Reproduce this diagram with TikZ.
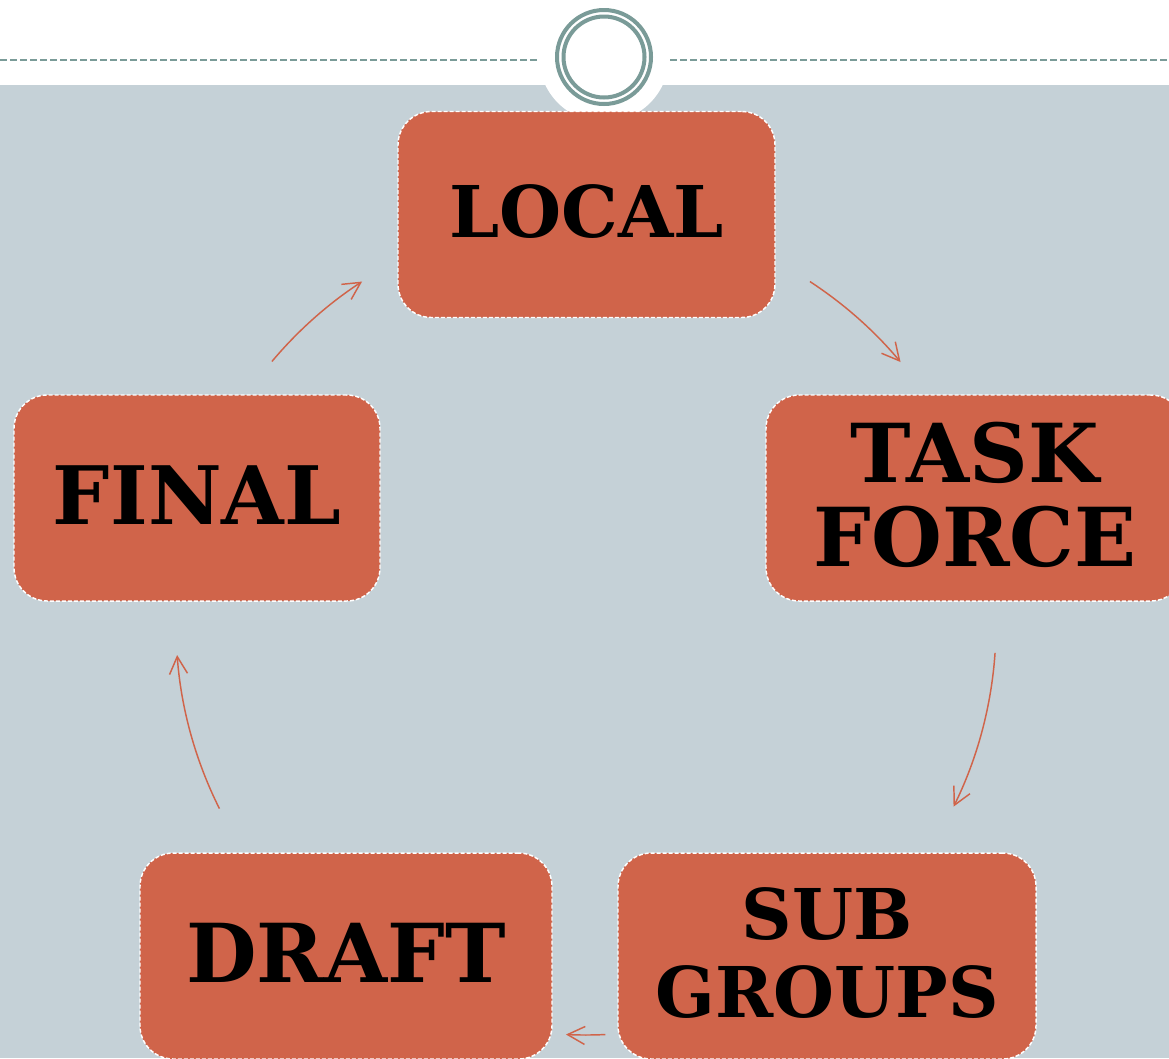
\documentclass[tikz,border=0pt]{standalone}
\usepackage{fontspec}
\setmainfont{DejaVu Serif}
\usetikzlibrary{arrows.meta,calc}
\definecolor{bgrey}{RGB}{197,209,215}
\definecolor{boxc}{RGB}{208,100,74}
\definecolor{ringc}{RGB}{122,155,152}
\begin{document}
\begin{tikzpicture}[x=0.75pt,y=-0.75pt,
  cbox/.style={draw=white, fill=boxc, line width=1.1pt, dash pattern=on 3pt off 1.5pt,
    rounded corners=25pt, inner sep=0pt, align=center, text=black, text depth=5pt,
    minimum height=206*0.75pt},
  arr/.style={draw=boxc, line width=1.1pt, -{Straight Barb[length=13pt,width=13.5pt]}}]
\useasboundingbox (0,0) rectangle (1169,1058);
\clip (0,0) rectangle (1169,1058);
\fill[white] (0,0) rectangle (1169,1058);
\fill[bgrey] (0,85) rectangle (1169,1058);
\draw[ringc, line width=1.3pt, dash pattern=on 5.25pt off 2.25pt] (0,60) -- (1169,60);
\fill[white] (604,57) circle[radius=65];
\draw[ringc, line width=3pt] (604,57) circle[radius=47];
\draw[ringc, line width=3pt] (604,57) circle[radius=40.5];

\node[cbox, minimum width=377*0.75pt, font=\fontsize{53.5pt}{60pt}\selectfont\bfseries] (local) at (586.5,214.5) {LOCAL};
\node[cbox, minimum width=418*0.75pt, font=\fontsize{61pt}{63pt}\selectfont\bfseries] (task) at (975,498) {TASK\\FORCE};
\node[cbox, minimum width=418*0.75pt, font=\fontsize{52.5pt}{58.5pt}\selectfont\bfseries] (sub) at (827,956) {SUB\\GROUPS};
\node[cbox, minimum width=412*0.75pt, font=\fontsize{61pt}{65pt}\selectfont\bfseries] (draft) at (346,956) {DRAFT};
\node[cbox, minimum width=366*0.75pt, font=\fontsize{60.5pt}{65pt}\selectfont\bfseries] (final) at (197,498) {FINAL};

\coordinate (ctr) at (586,625);
\coordinate (s1) at ($(ctr)+(-56.9:410)$);
\coordinate (s2) at ($(ctr)+(3.9:410)$);
\coordinate (s3) at ($(ctr)+(87.3:410)$);
\coordinate (s4) at ($(ctr)+(153.4:410)$);
\coordinate (s5) at ($(ctr)+(220:410)$);
\draw[arr] (s1) arc[start angle=-56.9, end angle=-39.9, radius=410];
\draw[arr] (s2) arc[start angle=3.9, end angle=26.3, radius=410];
\draw[arr] (s3) arc[start angle=87.3, end angle=92.8, radius=410];
\draw[arr] (s4) arc[start angle=153.4, end angle=175.8, radius=410];
\draw[arr] (s5) arc[start angle=220, end angle=236.9, radius=410];
\end{tikzpicture}
\end{document}
